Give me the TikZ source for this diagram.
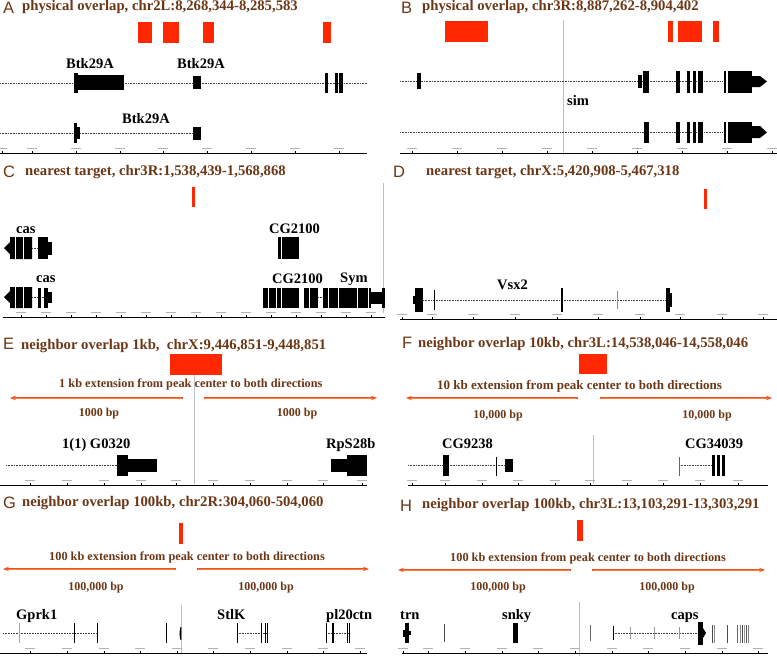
\documentclass[tikz,border=0pt]{standalone}
\usepackage{fontspec}
\setmainfont{Liberation Serif}
\newfontfamily\lettfont{Liberation Sans}
\usetikzlibrary{arrows.meta}
\definecolor{ttl}{RGB}{107,55,22}
\definecolor{peak}{RGB}{255,40,0}
\definecolor{extc}{RGB}{238,80,35}
\definecolor{extin}{RGB}{250,130,60}
\tikzset{
 ttl/.style={anchor=base west, inner sep=0, text=ttl, font=\fontsize{14.7}{16}\selectfont\bfseries},
 plet/.style={anchor=base west, inner sep=0, text=ttl, font=\fontsize{16.5}{18}\selectfont\lettfont},
 glab/.style={anchor=base west, inner sep=0, font=\fontsize{14.5}{16}\selectfont\bfseries},
 extt/.style={anchor=base west, inner sep=0, text=ttl, font=\fontsize{12.3}{14}\selectfont\bfseries},
 bpt/.style={anchor=base, inner sep=0, text=ttl, font=\fontsize{12}{14}\selectfont\bfseries},
 trk/.style={densely dotted, line width=0.6pt, black!75},
 axl/.style={line width=0.5pt, black},
 tlab/.style={line width=0.8pt, black!30},
 peakbox/.style={fill=peak},
 gene/.style={fill=black},
 ghost/.style={draw=black!25, line width=0.6pt},
 sep/.style={draw=white, line width=0.5pt},
 extarrow/.style={draw=extc, line width=2.2pt, -{Stealth[length=6pt,width=4.5pt]}},
 extcore/.style={draw=extin, line width=0.8pt, shorten >=4pt, shorten <=1pt},
}
\newcommand{\trkaxis}[4]{%
  \draw[axl] (#1,#3) -- (#2,#3);
  \foreach \t in {#4} {\draw[axl] (\t,#3) -- (\t,#3-2.5);
    \draw[tlab] (\t-5,#3-4.5) -- (\t+5,#3-4.5);}
}
\newcommand{\extpair}[4]{%
  \draw[extarrow] (#1) -- (#2);
  \draw[extcore] (#1) -- (#2);
  \draw[extarrow] (#3) -- (#4);
  \draw[extcore] (#3) -- (#4);
}
\begin{document}
\begin{tikzpicture}[x=1pt,y=-1pt]
\useasboundingbox (0,0) rectangle (777,656);
\fill[white] (0,0) rectangle (777,656);
% ================= A
\node[plet] (lA) at (3,13) {A};
\node[ttl] (tA) at (22,10) {physical overlap, chr2L:8,268,344-8,285,583};
\foreach \a/\b in {138/152,163/179,203/214,323/331} \fill[peakbox] (\a,22) rectangle (\b,43);
\draw[trk] (0,83) -- (367,83);
\fill[gene] (74,73) rectangle (78,93);
\fill[gene] (78,75) rectangle (124,90);
\fill[gene] (193,76) rectangle (201,89);
\foreach \a/\b in {325/328,335/338.2,339.3/342.7} \fill[gene] (\a,73) rectangle (\b,93);
\node[glab] (gA1) at (66,68) {Btk29A};
\node[glab] (gA2) at (177,68) {Btk29A};
\draw[trk] (0,133) -- (193,133);
\fill[gene] (74,123) rectangle (77,143);
\fill[gene] (77,127) rectangle (80,139);
\fill[gene] (193,127) rectangle (201,140);
\node[glab] (gA3) at (122,123) {Btk29A};
\trkaxis{0}{367}{153}{2,32,76,120,163,207,251,295,339}
% ================= B
\node[plet] (lB) at (401,13) {B};
\node[ttl] (tB) at (422,10) {physical overlap, chr3R:8,887,262-8,904,402};
\foreach \a/\b in {445/488,668/673,678/702,713/719} \fill[peakbox] (\a,21) rectangle (\b,42);
\draw[ghost] (563,20) -- (563,155);
\draw[trk] (400,81) -- (723,81);
\fill[gene] (417,73) rectangle (421,89);
\fill[gene] (638,75) rectangle (642,88);
\foreach \a/\b in {643/649,676/680,687/690,693/696,698/703,724/726,728/752} \fill[gene] (\a,71) rectangle (\b,93);
\fill[gene] (752,76) -- (760,76) -- (767,81.5) -- (760,87) -- (752,87) -- cycle;
\node[glab] (gB) at (567,105) {sim};
\draw[trk] (400,132) -- (723,132);
\foreach \a/\b in {644/649,676/680,687/690,693/696,698/703,724/726,728/752} \fill[gene] (\a,122) rectangle (\b,143);
\fill[gene] (752,126) -- (760,126) -- (767,132.5) -- (760,138) -- (752,138) -- cycle;
\trkaxis{400}{777}{153}{412,457,502,547,592,637,682,727,772}
% ================= C
\node[plet] (lC) at (3,177) {C};
\node[ttl] (tC) at (25,175) {nearest target, chr3R:1,538,439-1,568,868};
\fill[peakbox] (192,187) rectangle (195,207);
\draw[ghost] (383,183) -- (383,313);
\fill[gene] (4,248) -- (10,242) -- (10,237) -- (32,237) -- (32,259) -- (10,259) -- (10,254) -- cycle;
\draw[sep] (15,237) -- (15,259); \draw[sep] (23,237) -- (23,259);
\draw[trk] (32,248) -- (38,248);
\fill[gene] (38,237) rectangle (48,259);
\fill[gene] (48,242) rectangle (52,255);
\node[glab] (gC1) at (16,233) {cas};
\fill[gene] (278,237) rectangle (299,259);
\draw[sep] (281,237) -- (281,259);
\node[glab] (gC2) at (269,233) {CG2100};
\fill[gene] (4,297) -- (10,291) -- (10,287) -- (32,287) -- (32,308) -- (10,308) -- (10,303) -- cycle;
\draw[sep] (15,287) -- (15,308); \draw[sep] (23,287) -- (23,308);
\draw[trk] (32,297) -- (44,297);
\fill[gene] (38,288) rectangle (40.5,308);
\fill[gene] (44,288) rectangle (48,308);
\fill[gene] (48,292) rectangle (52,303);
\node[glab] (gC3) at (36,282) {cas};
\fill[gene] (263,288) rectangle (299,308);
\foreach \s in {268,276,281} \draw[sep] (\s,288) -- (\s,308);
\fill[gene] (304,288) rectangle (318,308);
\draw[sep] (309,288) -- (309,308);
\draw[trk] (318,297) -- (323,297);
\fill[gene] (323,288) rectangle (371,308);
\foreach \s in {328,338,357,368} \draw[sep] (\s,288) -- (\s,308);
\fill[gene] (371,292) rectangle (382,304);
\fill[gene] (382,288) rectangle (385,308);
\node[glab] (gC4) at (272,283) {CG2100};
\node[glab] (gC5) at (340,282) {Sym};
\trkaxis{3}{385}{317}{21,46,71,96,121,146,171,196,221,246,271,296,321,346,371}
% ================= D
\node[plet] (lD) at (393,177) {D};
\node[ttl] (tD) at (426,175) {nearest target, chrX:5,420,908-5,467,318};
\fill[peakbox] (704,189) rectangle (706.5,209);
\draw[trk] (415,300) -- (672,300);
\fill[gene] (413,296) rectangle (415,304);
\fill[gene] (415,288) rectangle (423,312);
\fill[gene] (433.5,290) rectangle (435,310);
\fill[gene] (561,288) rectangle (563,312);
\fill[black!45] (616.8,291) rectangle (617.6,309);
\fill[gene] (666,288) rectangle (670,312);
\fill[gene] (670,293) rectangle (672,307);
\node[glab] (gD) at (497,289) {Vsx2};
\trkaxis{400}{777}{319}{402,432,473,515,557,598,640,680,722,763}
% ================= E
\node[plet] (lE) at (3,349) {E};
\node[ttl] (tE) at (21,349) {neighbor overlap 1kb,\ \ chrX:9,446,851-9,448,851};
\draw[ghost] (194,362) -- (194,484);
\fill[peakbox] (170,354) rectangle (222,375);
\node[extt] (xE) at (59,387) {1 kb extension from peak center to both directions};
\coordinate (eL0) at (183,398); \coordinate (eL1) at (10,398);
\coordinate (eR0) at (204,398); \coordinate (eR1) at (377,398);
\extpair{eL0}{eL1}{eR0}{eR1}
\node[bpt] (bE1) at (99,416) {1000 bp};
\node[bpt] (bE2) at (297,416) {1000 bp};
\draw[trk] (6,465) -- (117,465);
\fill[gene] (117,455) rectangle (128,476);
\fill[gene] (128,459) rectangle (157,472);
\fill[gene] (331,459) rectangle (347,472);
\fill[gene] (347,455) rectangle (367,476);
\node[glab] (gE1) at (62,448) {1(1) G0320};
\node[glab] (gE2) at (326,448) {RpS28b};
\trkaxis{0}{367}{485}{30,67,104,141,176,213,250,287,323,362}
% ================= F
\node[plet] (lF) at (402,348) {F};
\node[ttl] (tF) at (418,347) {neighbor overlap 10kb, chr3L:14,538,046-14,558,046};
\fill[peakbox] (579,354) rectangle (607,374);
\node[extt, font=\fontsize{13}{15}\selectfont\bfseries] (xF) at (437,389) {10 kb extension from peak center to both directions};
\coordinate (fL0) at (578,398); \coordinate (fL1) at (406,398);
\coordinate (fR0) at (600,398); \coordinate (fR1) at (772,398);
\extpair{fL0}{fL1}{fR0}{fR1}
\node[bpt] (bF1) at (498,418) {10,000 bp};
\node[bpt] (bF2) at (707,418) {10,000 bp};
\draw[ghost] (593,435) -- (593,484);
\draw[trk] (408,465) -- (512,465);
\fill[gene] (443,455) rectangle (449,476);
\fill[gene] (495.5,457) rectangle (497,476);
\fill[gene] (505,459) rectangle (513,472);
\draw[trk] (679,465) -- (712,465);
\fill[black!60] (678.5,457) rectangle (679.8,476);
\foreach \a/\b in {712/715,717/720,722/725} \fill[gene] (\a,455) rectangle (\b,476);
\node[glab] (gF1) at (442,448) {CG9238};
\node[glab] (gF2) at (685,448) {CG34039};
\trkaxis{408}{768}{485}{412,445,482,518,555,590,627,663,700,738}
% ================= G
\node[plet] (lG) at (3,508) {G};
\node[ttl] (tG) at (22,506) {neighbor overlap 100kb, chr2R:304,060-504,060};
\fill[peakbox] (179.3,523) rectangle (182.7,544);
\node[extt] (xG) at (49,560) {100 kb extension from peak center to both directions};
\coordinate (gL0) at (176,569); \coordinate (gL1) at (3,569);
\coordinate (gR0) at (197,569); \coordinate (gR1) at (369,569);
\extpair{gL0}{gL1}{gR0}{gR1}
\node[bpt] (bG1) at (96,590) {100,000 bp};
\node[bpt] (bG2) at (266,590) {100,000 bp};
\draw[ghost] (181,605) -- (181,653);
\draw[trk] (3,633) -- (97,633);
\fill[black!35] (18.5,623) rectangle (19.8,643);
\foreach \a in {74,97,166} \fill[gene] (\a-0.45,623) rectangle (\a+0.45,643);
\fill[gene] (180.5,627) .. controls (179.3,630) and (179.3,637) .. (180.5,640) -- (181.3,640) -- (181.3,627) -- cycle;
\draw[trk] (237,633) -- (269,633);
\foreach \a in {237,261,265,267} \fill[gene] (\a-0.45,623) rectangle (\a+0.45,643);
\draw[trk] (326,633) -- (350,633);
\foreach \a in {326,347,349} \fill[gene] (\a-0.45,623) rectangle (\a+0.45,643);
\fill[gene] (332,623) rectangle (334,643);
\node[glab] (gG1) at (16,619) {Gprk1};
\node[glab] (gG2) at (217,619) {StlK};
\node[glab] (gG3) at (326,619) {pl20ctn};
\trkaxis{0}{367}{653}{30,67,104,140,177,213,250,287,323,360}
% ================= H
\node[plet] (lH) at (400,511) {H};
\node[ttl] (tH) at (422,508) {neighbor overlap 100kb, chr3L:13,103,291-13,303,291};
\fill[peakbox] (577,520) rectangle (583,541);
\node[extt] (xH) at (450,561) {100 kb extension from peak center to both directions};
\coordinate (hL0) at (571,570); \coordinate (hL1) at (398,570);
\coordinate (hR0) at (592,570); \coordinate (hR1) at (765,570);
\extpair{hL0}{hL1}{hR0}{hR1}
\node[bpt] (bH1) at (498,590) {100,000 bp};
\node[bpt] (bH2) at (667,590) {100,000 bp};
\draw[ghost] (579,602) -- (579,656);
\fill[gene] (403,630) rectangle (405,637);
\fill[gene] (405,623) rectangle (409,643);
\fill[gene] (409,631) rectangle (410.5,635);
\fill[black!70] (443.6,624) rectangle (444.6,642);
\fill[gene] (513,623) rectangle (518,643);
\fill[black!60] (589.5,625) rectangle (590.6,641);
\draw[trk] (613,633) -- (698,633);
\fill[gene] (612.6,626) rectangle (613.6,640);
\foreach \a in {630,654,679} \fill[black!40] (\a-0.4,627) rectangle (\a+0.4,639);
\fill[gene] (698,622) rectangle (703,645);
\fill[gene] (703,628) -- (706,633) -- (703,638) -- cycle;
\fill[black!70] (712,625) rectangle (713.2,643);
\fill[black!45] (714.2,625) rectangle (715.2,643);
\fill[black!70] (726.6,625) rectangle (727.6,643);
\foreach \a/\c in {737/60,740/45,742/70,744/40,746/65,748/50} \fill[black!\c] (\a-0.45,625) rectangle (\a+0.45,643);
\node[glab] (gH1) at (400,619) {trn};
\node[glab] (gH2) at (502,619) {snky};
\node[glab] (gH3) at (671,619) {caps};
\trkaxis{402}{768}{653}{403,428,465,502,538,575,612,648,685,722,758}
\end{tikzpicture}
\end{document}
